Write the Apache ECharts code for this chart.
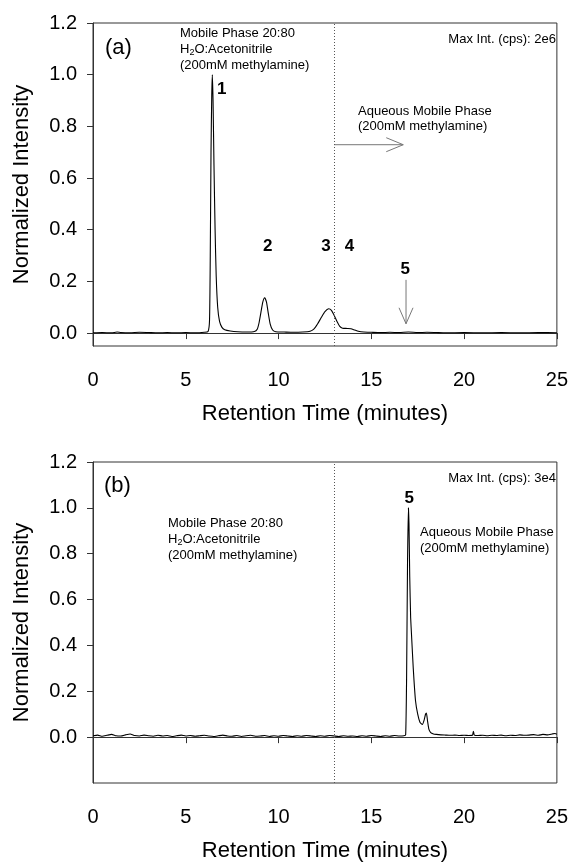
<!DOCTYPE html>
<html><head><meta charset="utf-8">
<script src="https://cdn.jsdelivr.net/npm/echarts@6/dist/echarts.min.js"></script>
<style>html,body{margin:0;padding:0;background:#fff}#c{width:571px;height:863px}</style>
</head><body><div id="c"></div>
<script>
// ---- data: panel (a) ----
const timeA = [0,0.5,1.0,1.3,1.5,2.0,2.5,3.0,3.5,4.0,4.5,5.0,5.5,6.0,6.2,6.28,6.32,6.36,6.40,6.43,6.47,6.52,6.58,6.64,6.72,6.82,6.95,7.1,7.4,7.8,8.3,8.7,8.85,8.95,9.05,9.15,9.25,9.35,9.45,9.55,9.68,9.85,10.3,10.8,11.3,11.7,11.9,12.1,12.3,12.5,12.7,12.85,13.0,13.15,13.3,13.45,13.7,13.9,14.1,14.3,14.6,15.0,15.5,16.0,16.5,17.0,17.5,18.0,18.5,19.0,20,21,22,23,24,25];
const intensityA = [0.001,0.002,0.001,0.004,0.002,0.001,0.003,0.002,0.001,0.002,0.001,0.002,0.001,0.003,0.006,0.05,0.3,0.7,0.92,1.0,0.90,0.65,0.40,0.22,0.10,0.045,0.022,0.013,0.008,0.005,0.004,0.006,0.015,0.04,0.08,0.12,0.137,0.12,0.075,0.035,0.012,0.005,0.004,0.003,0.004,0.007,0.015,0.035,0.06,0.083,0.094,0.088,0.068,0.045,0.026,0.019,0.018,0.017,0.012,0.007,0.004,0.003,0.002,0.003,0.002,0.004,0.002,0.003,0.002,0.001,0.002,0.001,0.002,0.001,0.002,0.001];
// ---- data: panel (b) ----
const timeB = [0,0.25,0.5,0.75,1.0,1.25,1.5,1.75,2.0,2.25,2.5,2.75,3.0,3.25,3.5,3.75,4.0,4.25,4.5,4.75,5.0,5.25,5.5,5.75,6.0,6.25,6.5,6.75,7.0,7.25,7.5,7.75,8.0,8.25,8.5,8.75,9.0,9.25,9.5,9.75,10.0,10.25,10.5,10.75,11.0,11.25,11.5,11.75,12.0,12.25,12.5,12.75,13.0,13.25,13.5,13.75,14.0,14.25,14.5,14.75,15.0,15.25,15.5,15.75,16.0,16.25,16.5,16.75,16.85,16.9,16.95,17.0,17.03,17.07,17.12,17.17,17.26,17.38,17.5,17.62,17.75,17.85,17.92,17.97,18.03,18.1,18.2,18.35,18.5,18.75,19.0,19.25,19.5,19.75,20.0,20.25,20.45,20.5,20.55,20.75,21.0,21.25,21.5,21.75,22.0,22.25,22.5,22.75,23.0,23.25,23.5,23.75,24.0,24.25,24.5,24.75,24.9,25.0];
const intensityB = [0.006,0.009,0.004,0.008,0.012,0.006,0.005,0.010,0.014,0.007,0.005,0.009,0.006,0.004,0.008,0.005,0.007,0.003,0.006,0.009,0.005,0.007,0.004,0.006,0.008,0.005,0.003,0.006,0.009,0.005,0.004,0.007,0.003,0.006,0.008,0.004,0.005,0.007,0.003,0.006,0.004,0.007,0.005,0.003,0.006,0.004,0.007,0.005,0.003,0.006,0.004,0.007,0.005,0.003,0.006,0.004,0.005,0.003,0.006,0.004,0.007,0.005,0.003,0.006,0.004,0.007,0.005,0.006,0.01,0.25,0.75,1.0,0.93,0.7,0.52,0.44,0.3,0.16,0.1,0.065,0.055,0.075,0.1,0.105,0.07,0.035,0.02,0.014,0.012,0.010,0.009,0.008,0.009,0.007,0.008,0.007,0.008,0.026,0.009,0.007,0.008,0.006,0.008,0.007,0.009,0.006,0.008,0.007,0.010,0.008,0.009,0.011,0.008,0.012,0.010,0.014,0.016,0.013];
// ---- ticks ----
const yTickValues = [0.0,0.2,0.4,0.6,0.8,1.0,1.2];
const xTickValues = [0,5,10,15,20,25];
const phaseBoundary = 13;

const FONT = '"Liberation Sans", Arial, sans-serif';
const chart = echarts.init(document.getElementById('c'), null, {renderer:'canvas'});
const pairs = (xs, ys) => xs.map((x,i)=>[x, ys[i]]);

function xAxisCfg(gi){
  return {type:'value', gridIndex:gi, min:0, max:25, interval:5,
    name:'Retention Time (minutes)', nameLocation:'middle', nameGap:57,
    nameTextStyle:{fontFamily:FONT, fontSize:22, color:'#000'},
    axisLine:{lineStyle:{color:'#333', width:1}},
    axisTick:{show:true, inside:false, length:6, lineStyle:{color:'#333'}},
    axisLabel:{fontFamily:FONT, fontSize:20, color:'#000', margin:24},
    splitLine:{show:false}};
}
function yAxisCfg(gi, min){
  return {type:'value', gridIndex:gi, min:min, max:1.2,
    name:'Normalized Intensity', nameLocation:'middle', nameGap:60,
    nameTextStyle:{fontFamily:FONT, fontSize:22, color:'#000'},
    axisLine:{lineStyle:{color:'#333', width:1}},
    axisTick:{show:true, inside:false, length:6, lineStyle:{color:'#333'}, customValues:yTickValues},
    axisLabel:{fontFamily:FONT, fontSize:20, color:'#000', margin:16, customValues:yTickValues,
      formatter:v=>v.toFixed(1)},
    splitLine:{show:false}};
}
const boundaryLine = {silent:true, symbol:'none', label:{show:false},
  lineStyle:{color:'#555', type:[1,2], width:1}, data:[{xAxis:phaseBoundary}]};

chart.setOption({
  animation:false,
  grid:[
    {left:93, top:23, width:465, height:323, show:true, borderColor:'#333', borderWidth:1, backgroundColor:'transparent'},
    {left:93, top:462, width:465, height:328, show:true, borderColor:'#333', borderWidth:1, backgroundColor:'transparent'}
  ],
  xAxis:[xAxisCfg(0), xAxisCfg(1)],
  yAxis:[yAxisCfg(0,-0.05), yAxisCfg(1,-0.2)],
  series:[
    {type:'line', xAxisIndex:0, yAxisIndex:0, data:pairs(timeA,intensityA), showSymbol:false, smooth:0.2,
      lineStyle:{color:'#000', width:1.1}, markLine:boundaryLine},
    {type:'line', xAxisIndex:1, yAxisIndex:1, data:pairs(timeB,intensityB), showSymbol:false, smooth:0.15,
      lineStyle:{color:'#000', width:1.1}, markLine:boundaryLine}
  ]
});

// ---- annotations ----
const P = (gi, x, y) => chart.convertToPixel({gridIndex:gi}, [x, y]);
const rich = {
  n:{fontFamily:FONT, fontSize:13, color:'#000', lineHeight:16},
  s:{fontFamily:FONT, fontSize:9, color:'#000', lineHeight:16, padding:[7,0,0,0]}
};
function txt(x, y, text, opt){
  opt = opt || {};
  return {type:'text', x:x, y:y, silent:true, style:Object.assign({
    text:text, fontFamily:FONT, fontSize:13, fill:'#000',
    align:opt.align||'left', verticalAlign:'middle'}, opt.style||{})};
}
function peakLabel(gi, x, y, s){
  const p = P(gi, x, y);
  return txt(p[0], p[1], s, {align:'center', style:{fontSize:17, fontWeight:'bold'}});
}
function phaseBlock(x, y){
  return [
    txt(x, y, 'Mobile Phase 20:80'),
    {type:'text', x:x, y:y+16, silent:true, style:{rich:rich, text:'{n|H}{s|2}{n|O:Acetonitrile}', verticalAlign:'middle', fill:'#000'}},
    txt(x, y+32, '(200mM methylamine)')
  ];
}
const G = [];
// panel (a)
G.push(txt(105, 48, '(a)', {style:{fontSize:22}}));
G.push(...phaseBlock(180, 33));
G.push(txt(556, 39, 'Max Int. (cps): 2e6', {align:'right'}));
G.push(txt(358, 111, 'Aqueous Mobile Phase'));
G.push(txt(358, 126, '(200mM methylamine)'));
G.push(peakLabel(0, 6.94, 0.942, '1'));
G.push(peakLabel(0, 9.42, 0.335, '2'));
G.push(peakLabel(0, 12.56, 0.335, '3'));
G.push(peakLabel(0, 13.82, 0.335, '4'));
G.push(peakLabel(0, 16.83, 0.248, '5'));
// horizontal arrow (a)
{
  const a = P(0, phaseBoundary, 0.729), b = P(0, 16.72, 0.729);
  G.push({type:'line', silent:true, shape:{x1:a[0], y1:a[1], x2:b[0], y2:b[1]}, style:{stroke:'#777', lineWidth:1}});
  G.push({type:'polyline', silent:true, shape:{points:[[b[0]-17,b[1]-7],[b[0],b[1]],[b[0]-17,b[1]+7]]}, style:{stroke:'#777', lineWidth:1, fill:null}});
}
// down arrow (a)
{
  const a = P(0, 16.87, 0.206), b = P(0, 16.87, 0.036);
  G.push({type:'line', silent:true, shape:{x1:a[0], y1:a[1], x2:b[0], y2:b[1]}, style:{stroke:'#777', lineWidth:1}});
  G.push({type:'polyline', silent:true, shape:{points:[[b[0]-7,b[1]-16],[b[0],b[1]],[b[0]+7,b[1]-16]]}, style:{stroke:'#777', lineWidth:1, fill:null}});
}
// panel (b)
G.push(txt(104, 486, '(b)', {style:{fontSize:22}}));
G.push(txt(556, 478, 'Max Int. (cps): 3e4', {align:'right'}));
G.push(...phaseBlock(168, 523));
G.push(txt(420, 532, 'Aqueous Mobile Phase'));
G.push(txt(420, 548, '(200mM methylamine)'));
G.push(peakLabel(1, 17.04, 1.04, '5'));

chart.setOption({graphic:G});
</script></body></html>
